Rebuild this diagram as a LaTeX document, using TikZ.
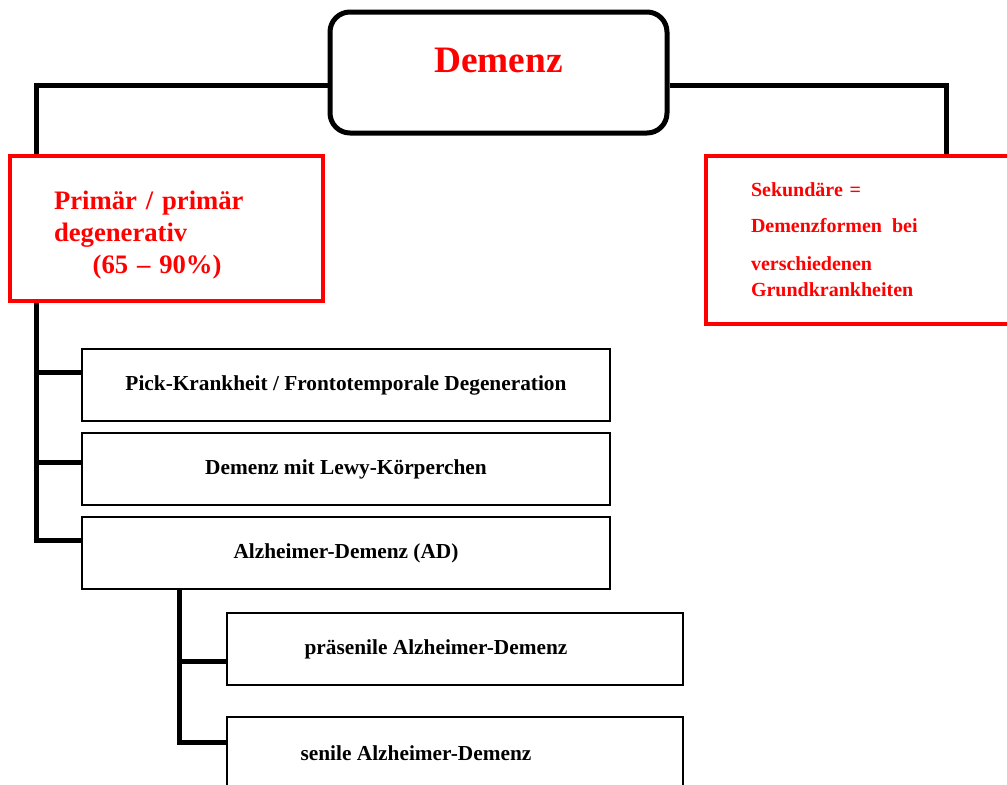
\documentclass[tikz,border=0pt]{standalone}
\usepackage{fontspec}
\setmainfont{Liberation Serif}
\definecolor{gruppe}{RGB}{255,0,0}
\tikzstyle{art}=[draw, line width=1.5pt, fill=white, minimum width=396pt, minimum height=54pt, font=\fontsize{16}{19}\selectfont\bfseries]
\tikzstyle{unterart}=[art, minimum width=342pt]
\tikzstyle{gruppe}=[draw=gruppe, line width=3pt, fill=white, text=gruppe, align=left, inner xsep=33pt, font=\bfseries]
\tikzset{wurzel/.style={draw, line width=3.75pt, rounded corners=15pt, fill=white, text=gruppe, minimum width=252.75pt, minimum height=90.75pt, text height=18.75pt, text depth=18.75pt, font=\fontsize{28}{32}\selectfont\bfseries}}
\tikzset{ast/.style={line width=3.75pt}}

\begin{document}
\begin{tikzpicture}[x=0.75pt,y=-0.75pt]
  \useasboundingbox (0,0) rectangle (1007,785);
  \draw (498.5,72.5) node[wurzel] (Demenz) {Demenz};

  \draw (166.5,228.5) node[gruppe, minimum width=234.75pt, minimum height=108.75pt, text width=168.75pt, font=\fontsize{20}{24}\selectfont\bfseries] (primaer) {\rule{0pt}{24pt}Primär / primär\\ degenerativ\\ \hspace*{29pt}(65 -- 90\%)};
  \draw (859,240) node[gruppe, minimum width=229.5pt, minimum height=126pt, inner xsep=33.75pt, text width=162pt, font=\fontsize{15}{18}\selectfont\bfseries] (sekundaer) {Sekundäre =\\[9pt] Demenzformen\enspace bei\\[10.5pt] verschiedenen\\[1.5pt] Grundkrankheiten};

  \draw (346,385) node[art] (pick) {Pick-Krankheit / Frontotemporale Degeneration};
  \draw (346,469) node[art] (lewy) {Demenz mit Lewy-Körperchen};
  \draw (346,553) node[art] (ad) {Alzheimer-Demenz (AD)};

  \draw (455,649) node[unterart] (praesenil) {präsenile Alzheimer-Demenz\hspace*{28.5pt}};
  \draw (455,753) node[unterart] (senil) {senile Alzheimer-Demenz\hspace*{58.5pt}};

  %% Aeste oben
  \coordinate (lj) at (36,85);
  \coordinate (rj) at (946,85);
  \draw[ast] (Demenz.west |- lj) -- (lj) -- (lj |- primaer.north);
  \draw[ast] (Demenz.east |- rj) -- (rj) -- (rj |- sekundaer.north);

  %% primaer degenerative Formen
  \coordinate (t1) at ([yshift=9.75pt]pick.west);
  \coordinate (t2) at ([yshift=5.25pt]lewy.west);
  \coordinate (t3) at ([yshift=9.75pt]ad.west);
  \draw[ast] (lj |- primaer.south) |- (t3);
  \draw[ast] (lj |- t1) -- (t1);
  \draw[ast] (lj |- t2) -- (t2);

  %% Alzheimer
  \coordinate (sj) at (179,600);
  \coordinate (s1) at ([yshift=-9pt]praesenil.west);
  \coordinate (s2) at ([yshift=8.25pt]senil.west);
  \draw[ast] (sj |- ad.south) |- (s2);
  \draw[ast] (sj |- s1) -- (s1);
\end{tikzpicture}
\end{document}
